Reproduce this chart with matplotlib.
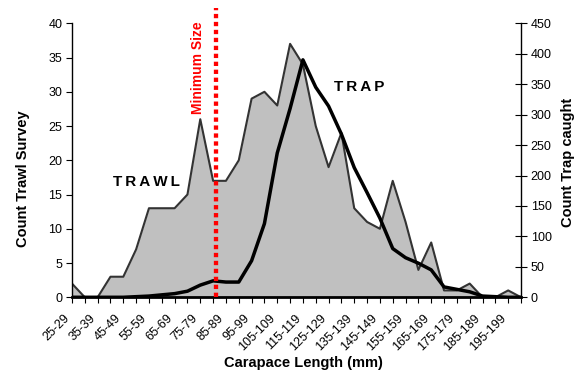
import numpy as np
import matplotlib
matplotlib.use("Agg")
from matplotlib import pyplot as plt

plt.rcParams['font.family'] = ['Liberation Sans', 'DejaVu Sans']

# carapace length classes (mm)
lengths = ["%d-%d" % (lo, lo + 4) for lo in range(25, 205, 5)]
trawl = [2, 0, 0, 3, 3, 7, 13, 13, 13, 15, 26, 17, 17, 20, 29, 30, 28, 37,
         34, 25, 19, 24, 13, 11, 10, 17, 11, 4, 8, 1, 1, 2, 0, 0, 1, 0]
trap = [0, 0, 0, 0, 0, 1, 2, 4, 6, 10, 20, 27, 25, 25, 60, 121, 237, 310,
        390, 345, 314, 268, 213, 172, 130, 80, 65, 56, 45, 17, 13, 9, 2, 1, 0, 0]
min_size = 83  # mm

x = np.arange(len(lengths))
# position of minimum size on the category axis (class midpoints 27, 32, ...)
min_pos = (min_size - 27) / 5.0


def spaced(s, sep='\u2009'):
    # mimic the wide letter spacing of the original
    return sep.join(s)


fig = plt.figure(figsize=(5.74, 3.71), dpi=100)
ax = fig.add_axes([0.1254, 0.1987, 0.7823, 0.7385])

ax.fill_between(x, trawl, color='#c0c0c0', lw=0)
ax.plot(x, trawl, color='#333333', lw=1.5)
ax.set_xlim(0, len(lengths) - 1)
ax.set_ylim(0, 40)
ax.set_yticks(range(0, 41, 5))
ax.set_xticks(x)
ax.set_xticklabels([l if i % 2 == 0 else '' for i, l in enumerate(lengths)],
                   rotation=45, ha='right', va='top', fontsize=9)
ax.tick_params(axis='y', direction='out', length=4, labelsize=9, pad=3)
ax.tick_params(axis='x', direction='out', length=4, pad=7)
for s in ['top', 'right']:
    ax.spines[s].set_visible(False)
ax.spines['bottom'].set_linewidth(2)
ax.spines['left'].set_linewidth(1)

ax2 = ax.twinx()
ax2.plot(x, trap, color='black', lw=2.5)
ax2.set_ylim(0, 450)
ax2.set_yticks(range(0, 451, 50))
ax2.tick_params(axis='y', direction='inout', length=8, labelsize=9, pad=3)
for s in ['top', 'left', 'bottom']:
    ax2.spines[s].set_visible(False)
ax2.spines['right'].set_linewidth(1)

ax2.axvline(min_pos, ymin=0, ymax=1.056, color='#ff0000', lw=3.1,
            linestyle=(0, (1, 0.85)), clip_on=False)

ax.text(0.2817, 0.839, "Minimum Size", transform=ax.transAxes, rotation=90,
        color='#ff0000', fontsize=10, fontweight='bold', ha='center', va='center')
ax.text(0.166, 0.419, spaced("TRAWL"), transform=ax.transAxes,
        fontsize=11, fontweight='bold', ha='center', va='center')
ax.text(0.639, 0.766, spaced("TRAP"), transform=ax.transAxes,
        fontsize=11, fontweight='bold', ha='center', va='center')

fig.text(0.0395, 0.5175, "Count Trawl Survey", rotation=90, fontsize=10.5,
         fontweight='bold', ha='center', va='center')
fig.text(0.9895, 0.5633, "Count Trap caught", rotation=90, fontsize=10.5,
         fontweight='bold', ha='center', va='center')
fig.text(0.528, 0.0224, "Carapace Length (mm)", fontsize=10.5,
         fontweight='bold', ha='center', va='center')

fig.savefig("out.png", dpi=100)
